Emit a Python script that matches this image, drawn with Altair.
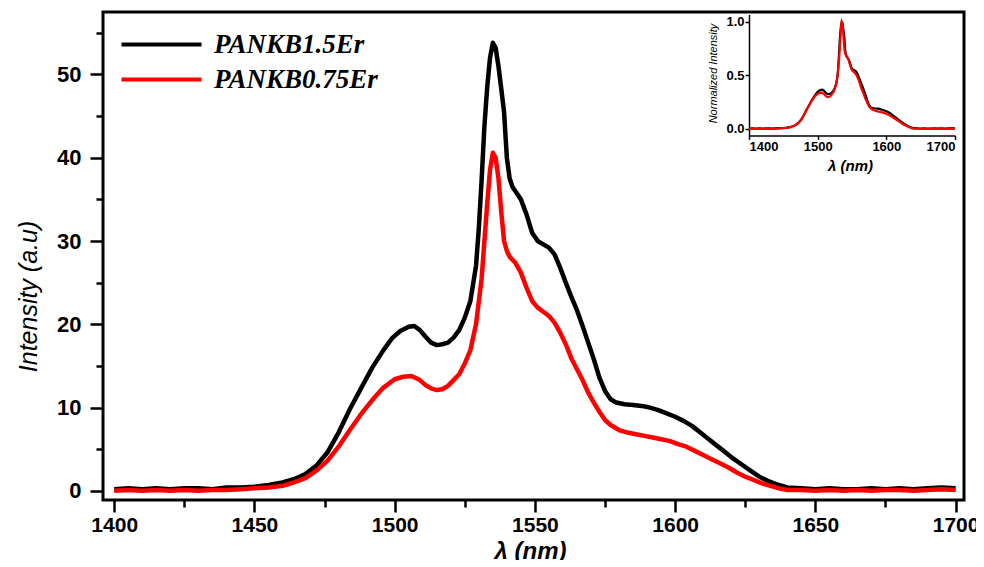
import altair as alt
import pandas as pd

S1 = "PANKB1.5Er"
S2 = "PANKB0.75Er"

wl_black = [1400, 1405, 1410, 1415, 1420, 1425, 1430, 1435, 1440, 1445, 1450, 1455, 1460, 1464, 1468,
            1472, 1476, 1480, 1484, 1488, 1492, 1496, 1499, 1502, 1505, 1507, 1509, 1511, 1513, 1515,
            1517, 1519, 1521, 1523, 1525, 1527, 1529, 1530, 1531, 1532, 1533, 1534, 1535, 1536, 1537,
            1538, 1539, 1540, 1541, 1542, 1543, 1545, 1547, 1549, 1551, 1553, 1555, 1557, 1559, 1561,
            1563, 1565, 1567, 1569, 1571, 1573, 1575, 1577, 1579, 1582, 1585, 1588, 1591, 1594, 1597,
            1600, 1603, 1606, 1609, 1612, 1615, 1618, 1621, 1624, 1627, 1630, 1633, 1636, 1640, 1645,
            1650, 1655, 1660, 1665, 1670, 1675, 1680, 1685, 1690, 1695, 1700]
int_black = [0.2, 0.3, 0.2, 0.3, 0.2, 0.3, 0.3, 0.2, 0.4, 0.4, 0.5, 0.7, 1.0, 1.4, 2.0,
             3.0, 4.6, 7.0, 9.8, 12.3, 14.8, 16.9, 18.3, 19.2, 19.7, 19.8, 19.3, 18.5, 17.8, 17.5,
             17.6, 17.8, 18.4, 19.3, 20.8, 22.8, 27.0, 31.5, 37.3, 43.8, 48.5, 52.0, 53.8, 53.2, 51.0,
             48.3, 45.5, 40.0, 37.5, 36.5, 36.0, 35.0, 33.2, 31.0, 30.0, 29.6, 29.2, 28.4, 26.8, 25.0,
             23.3, 21.7, 19.8, 17.8, 15.8, 13.6, 12.0, 11.0, 10.6, 10.4, 10.3, 10.2, 10.0, 9.7, 9.3,
             8.9, 8.4, 7.8, 7.0, 6.2, 5.4, 4.6, 3.8, 3.1, 2.4, 1.7, 1.2, 0.8, 0.4, 0.3,
             0.2, 0.3, 0.2, 0.2, 0.3, 0.2, 0.3, 0.2, 0.3, 0.4, 0.3]

wl_red = [1400, 1405, 1410, 1415, 1420, 1425, 1430, 1435, 1440, 1445, 1450, 1455, 1460, 1464, 1468,
          1472, 1476, 1480, 1484, 1488, 1492, 1496, 1500, 1503, 1506, 1509, 1511, 1513, 1515, 1517,
          1519, 1521, 1523, 1525, 1527, 1529, 1531, 1532, 1533, 1534, 1535, 1536, 1537, 1538, 1539,
          1540, 1541, 1543, 1545, 1547, 1549, 1551, 1553, 1555, 1557, 1559, 1561, 1563, 1565, 1567,
          1569, 1571, 1573, 1575, 1577, 1580, 1583, 1586, 1589, 1592, 1595, 1598, 1601, 1604, 1607,
          1610, 1613, 1616, 1619, 1622, 1625, 1628, 1631, 1634, 1637, 1640, 1645, 1650, 1655, 1660,
          1665, 1670, 1675, 1680, 1685, 1690, 1695, 1700]
int_red = [0.0, 0.1, 0.0, 0.1, 0.0, 0.1, 0.0, 0.1, 0.1, 0.2, 0.3, 0.4, 0.6, 1.0, 1.5,
           2.4, 3.6, 5.3, 7.3, 9.2, 10.9, 12.4, 13.4, 13.7, 13.8, 13.3, 12.7, 12.3, 12.1, 12.2,
           12.6, 13.3, 14.0, 15.3, 16.9, 20.0, 25.5, 30.0, 34.5, 38.5, 40.6, 40.0, 37.5, 33.5, 30.0,
           28.8, 28.1, 27.4, 26.2, 24.4, 22.8, 22.0, 21.5, 21.0, 20.2, 19.0, 17.6, 15.9, 14.6, 13.3,
           11.8, 10.6, 9.5, 8.5, 7.9, 7.3, 7.0, 6.8, 6.6, 6.4, 6.2, 6.0, 5.6, 5.3, 4.8,
           4.3, 3.8, 3.3, 2.8, 2.2, 1.7, 1.3, 0.9, 0.6, 0.3, 0.1, 0.1, 0.0, 0.1, 0.0,
           0.1, 0.0, 0.1, 0.1, 0.0, 0.1, 0.2, 0.1]

x_major = list(range(1400, 1701, 50))
x_minor = list(range(1425, 1700, 50))
y_major = list(range(0, 51, 10))
y_minor = list(range(5, 56, 10))
inset_x_ticks = [1400, 1500, 1600, 1700]
inset_y_ticks = [0.0, 0.5, 1.0]

df = pd.concat([
    pd.DataFrame({"wl": wl_black, "intensity": int_black, "series": S1}),
    pd.DataFrame({"wl": wl_red, "intensity": int_red, "series": S2}),
], ignore_index=True)

SANS = "Liberation Sans"
SERIF = "Liberation Serif"

x_scale = alt.Scale(domain=[1396, 1703], nice=False, zero=False)
y_scale = alt.Scale(domain=[-1.1, 57.5], nice=False, zero=False)

x_main = alt.X(
    "wl:Q", scale=x_scale,
    axis=alt.Axis(
        orient="bottom", values=x_major, title="λ (nm)", grid=False, domain=False,
        tickSize=12, tickWidth=2.5, tickColor="black", labelPadding=2,
        labelFont=SANS, labelFontSize=21, labelFontWeight="bold", labelColor="black",
        titleFont=SANS, titleFontSize=24, titleFontWeight="bold", titleFontStyle="italic",
        titleColor="black", titleX=427, titleY=51, titleBaseline="middle", titleAlign="center",
        format="d",
    ),
)
y_main = alt.Y(
    "intensity:Q", scale=y_scale,
    axis=alt.Axis(
        orient="left", values=y_major, title="Intensity (a.u)", grid=False, domain=False,
        tickSize=13, tickWidth=2.5, tickColor="black", labelPadding=9,
        labelFont=SANS, labelFontSize=22, labelFontWeight="bold", labelColor="black",
        titleFont=SANS, titleFontSize=25, titleFontWeight="normal", titleFontStyle="italic",
        titleColor="black", titleX=-75, titleY=284, titleAngle=270,
        titleBaseline="middle", titleAlign="center",
    ),
)
x_minor_enc = alt.X(
    "wl:Q", scale=x_scale,
    axis=alt.Axis(orient="bottom", values=x_minor, title=None, labels=False, grid=False,
                  domain=False, tickSize=7, tickWidth=2.5, tickColor="black"),
)
y_minor_enc = alt.Y(
    "intensity:Q", scale=y_scale,
    axis=alt.Axis(orient="left", values=y_minor, title=None, labels=False, grid=False,
                  domain=False, tickSize=7, tickWidth=2.5, tickColor="black"),
)
color_main = alt.Color(
    "series:N",
    scale=alt.Scale(domain=[S1, S2], range=["#000000", "#ff0000"]),
    legend=alt.Legend(
        title=None, orient="none", legendX=5, legendY=19, padding=0,
        symbolType="M0,0H8", symbolSize=400, symbolStrokeWidth=4,
        labelFont=SERIF, labelFontSize=27, labelFontStyle="italic", labelFontWeight="bold",
        labelColor="black", labelOffset=79, labelLimit=400, rowPadding=7,
    ),
)

main_black = alt.Chart(df).transform_filter(alt.datum.series == S1).mark_line(
    strokeWidth=4.5, strokeJoin="round").encode(x=x_main, y=y_main, color=color_main)
main_red = alt.Chart(df).transform_filter(alt.datum.series == S2).mark_line(
    strokeWidth=4.5, strokeJoin="round").encode(x=x_minor_enc, y=y_minor_enc, color=color_main)
main = alt.layer(main_black, main_red).resolve_axis(x="independent", y="independent")

x_inset = alt.X(
    "wl:Q",
    scale=alt.Scale(domain=[1400, 1700], range=[646, 852], nice=False, zero=False),
    axis=alt.Axis(
        orient="bottom", offset=-364.6, values=inset_x_ticks, title="λ (nm)", grid=False,
        domainColor="black", domainWidth=1.5, tickColor="black", tickWidth=1.5, tickSize=4,
        labelPadding=1, labelFont=SANS, labelFontSize=13, labelFontWeight="bold",
        labelColor="black", format="d",
        titleFont=SANS, titleFontSize=15, titleFontWeight="bold", titleFontStyle="italic",
        titleColor="black", titleX=747, titleY=30, titleBaseline="middle", titleAlign="center",
    ),
)
y_inset = alt.Y(
    "norm:Q",
    scale=alt.Scale(domain=[-0.06, 1.07], range=[123.4, 2.5], nice=False, zero=False),
    axis=alt.Axis(
        orient="left", offset=-646, values=inset_y_ticks, title="Normalized Intensity",
        grid=False, domainColor="black", domainWidth=1.5, tickColor="black", tickWidth=1.5,
        tickSize=4, labelPadding=1, format=".1f",
        labelFont=SANS, labelFontSize=13, labelFontWeight="bold", labelColor="black",
        titleFont=SANS, titleFontSize=11, titleFontWeight="normal", titleFontStyle="italic",
        titleColor="black", titleX=-36, titleY=61, titleAngle=270,
        titleBaseline="middle", titleAlign="center",
    ),
)

inset_base = alt.Chart(df).transform_joinaggregate(
    mx="max(intensity)", groupby=["series"]
).transform_calculate(norm="datum.intensity / datum.mx")

inset_black = inset_base.transform_filter(alt.datum.series == S1).mark_line(
    strokeWidth=2.2, color="#000000").encode(x=x_inset, y=y_inset)
inset_red = inset_base.transform_filter(alt.datum.series == S2).mark_line(
    strokeWidth=2.2, color="#ff0000").encode(x=x_inset, y=y_inset)
inset = alt.layer(inset_black, inset_red)

chart = alt.layer(main, inset).resolve_scale(
    x="independent", y="independent"
).resolve_axis(
    x="independent", y="independent"
).properties(
    width=861, height=488,
    autosize=alt.AutoSizeParams(type="none"),
    padding={"left": 95, "top": 4, "right": 12, "bottom": 60},
    background="white",
).configure_view(
    stroke="black", strokeWidth=3
)

chart.save("out.html", embed_options={"renderer": "svg", "actions": False})
